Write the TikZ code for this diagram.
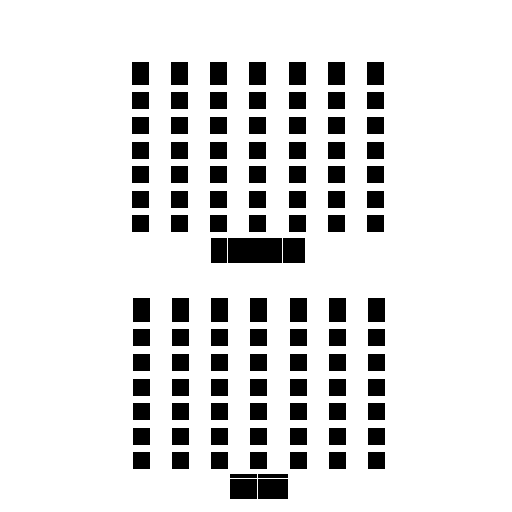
\documentclass[tikz,border=0pt]{standalone}
\begin{document}
\begin{tikzpicture}[x=0.02cm,y=-0.02cm,
  seat/.style={fill=black},
  gap/.style={draw=white,line width=0.02cm}]
\useasboundingbox (0,0) rectangle (512,512);
\fill[white] (0,0) rectangle (512,512);
% top block
\foreach \x in {132,171,210,249,289,328,367}{
  \fill[seat] (\x,62) rectangle ++(17,23);
  \foreach \y in {92,117,142,166,191,215}{
    \fill[seat] (\x,\y) rectangle ++(17,16.5);
  }
}
\fill[seat] (211,238) rectangle (305,263);
\draw[gap] (228,237) -- (228,264);
\draw[gap] (283,237) -- (283,264);
% bottom block
\foreach \x in {133,172,211,250,290,329,368}{
  \fill[seat] (\x,298) rectangle ++(17,24);
  \foreach \y in {329,354,379,403,428,452}{
    \fill[seat] (\x,\y) rectangle ++(17,16.5);
  }
}
\fill[seat] (230,474) rectangle (288,499);
\draw[gap] (229,478) -- (289,478);
\draw[gap] (258,473) -- (258,500);
\end{tikzpicture}
\end{document}
